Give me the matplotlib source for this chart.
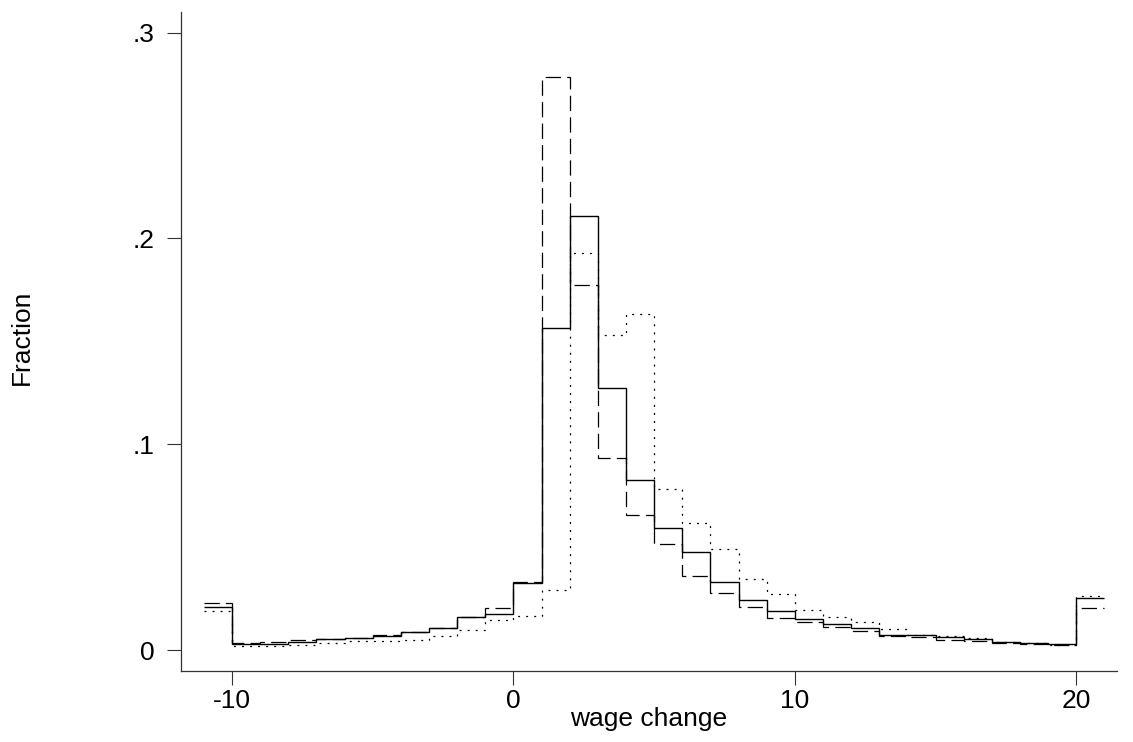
"""Step histograms of wage changes, three groups."""
import numpy as np
import matplotlib
matplotlib.use('Agg')
import matplotlib.pyplot as plt

plt.rcParams['font.family'] = ['Liberation Sans', 'DejaVu Sans']
plt.rcParams['lines.scale_dashes'] = False
plt.rcParams['axes.unicode_minus'] = False

# bin edges, -11 .. 21 (first and last bins hold the clipped tails)
edges = np.arange(-11, 22)

frac_solid = [0.0210, 0.0028, 0.0031, 0.0037, 0.0052, 0.0057, 0.0066, 0.0086,
              0.0105, 0.0162, 0.0173, 0.0327, 0.1564, 0.2111, 0.1275, 0.0825,
              0.0592, 0.0476, 0.0332, 0.0243, 0.0190, 0.0149, 0.0125, 0.0105,
              0.0073, 0.0071, 0.0063, 0.0053, 0.0039, 0.0034, 0.0027, 0.0253]

frac_dashed = [0.0227, 0.0036, 0.0039, 0.0049, 0.0052, 0.0060, 0.0075, 0.0089,
               0.0109, 0.0162, 0.0203, 0.0330, 0.2785, 0.1776, 0.0935, 0.0658,
               0.0515, 0.0358, 0.0279, 0.0211, 0.0154, 0.0138, 0.0112, 0.0092,
               0.0070, 0.0062, 0.0050, 0.0044, 0.0035, 0.0029, 0.0024, 0.0203]

frac_dotted = [0.0190, 0.0019, 0.0021, 0.0024, 0.0036, 0.0044, 0.0045, 0.0049,
               0.0066, 0.0097, 0.0146, 0.0165, 0.0290, 0.1928, 0.1530, 0.1632,
               0.0784, 0.0617, 0.0493, 0.0345, 0.0271, 0.0194, 0.0159, 0.0138,
               0.0100, 0.0075, 0.0066, 0.0057, 0.0041, 0.0032, 0.0022, 0.0260]

xticks = [-10, 0, 10, 20]
yticks = [0, 0.1, 0.2, 0.3]
ytick_labels = ['0', '.1', '.2', '.3']

fig = plt.figure(figsize=(11.33, 7.42), dpi=100)
ax = fig.add_axes([0.16, 0.0957, 0.826, 0.888])

ax.stairs(frac_dotted, edges, baseline=None, color='black', lw=0.9,
          linestyle=(0, (1.4, 4.4)))
ax.stairs(frac_dashed, edges, baseline=None, color='black', lw=0.9,
          linestyle=(0, (11, 4.5)))
ax.stairs(frac_solid, edges, baseline=None, color='black', lw=1.0)

ax.set_xlim(-11.8, 21.45)
ax.set_ylim(-0.0102, 0.310)

for side in ['top', 'right']:
    ax.spines[side].set_visible(False)
for side in ['left', 'bottom']:
    ax.spines[side].set_linewidth(0.9)
    ax.spines[side].set_color('#333333')

ax.set_xticks(xticks)
ax.set_yticks(yticks)
ax.set_yticklabels(ytick_labels)
ax.tick_params(axis='both', direction='out', length=10, width=0.8,
               color='#333333', labelsize=19)
ax.tick_params(axis='y', pad=9)
ax.tick_params(axis='x', pad=3)

fig.text(0.5725, 0.031, 'wage change', ha='center', va='center', fontsize=19)
fig.text(0.0195, 0.545, 'Fraction', ha='center', va='center', rotation=90,
         fontsize=19)

fig.savefig('out.png', dpi=100)
